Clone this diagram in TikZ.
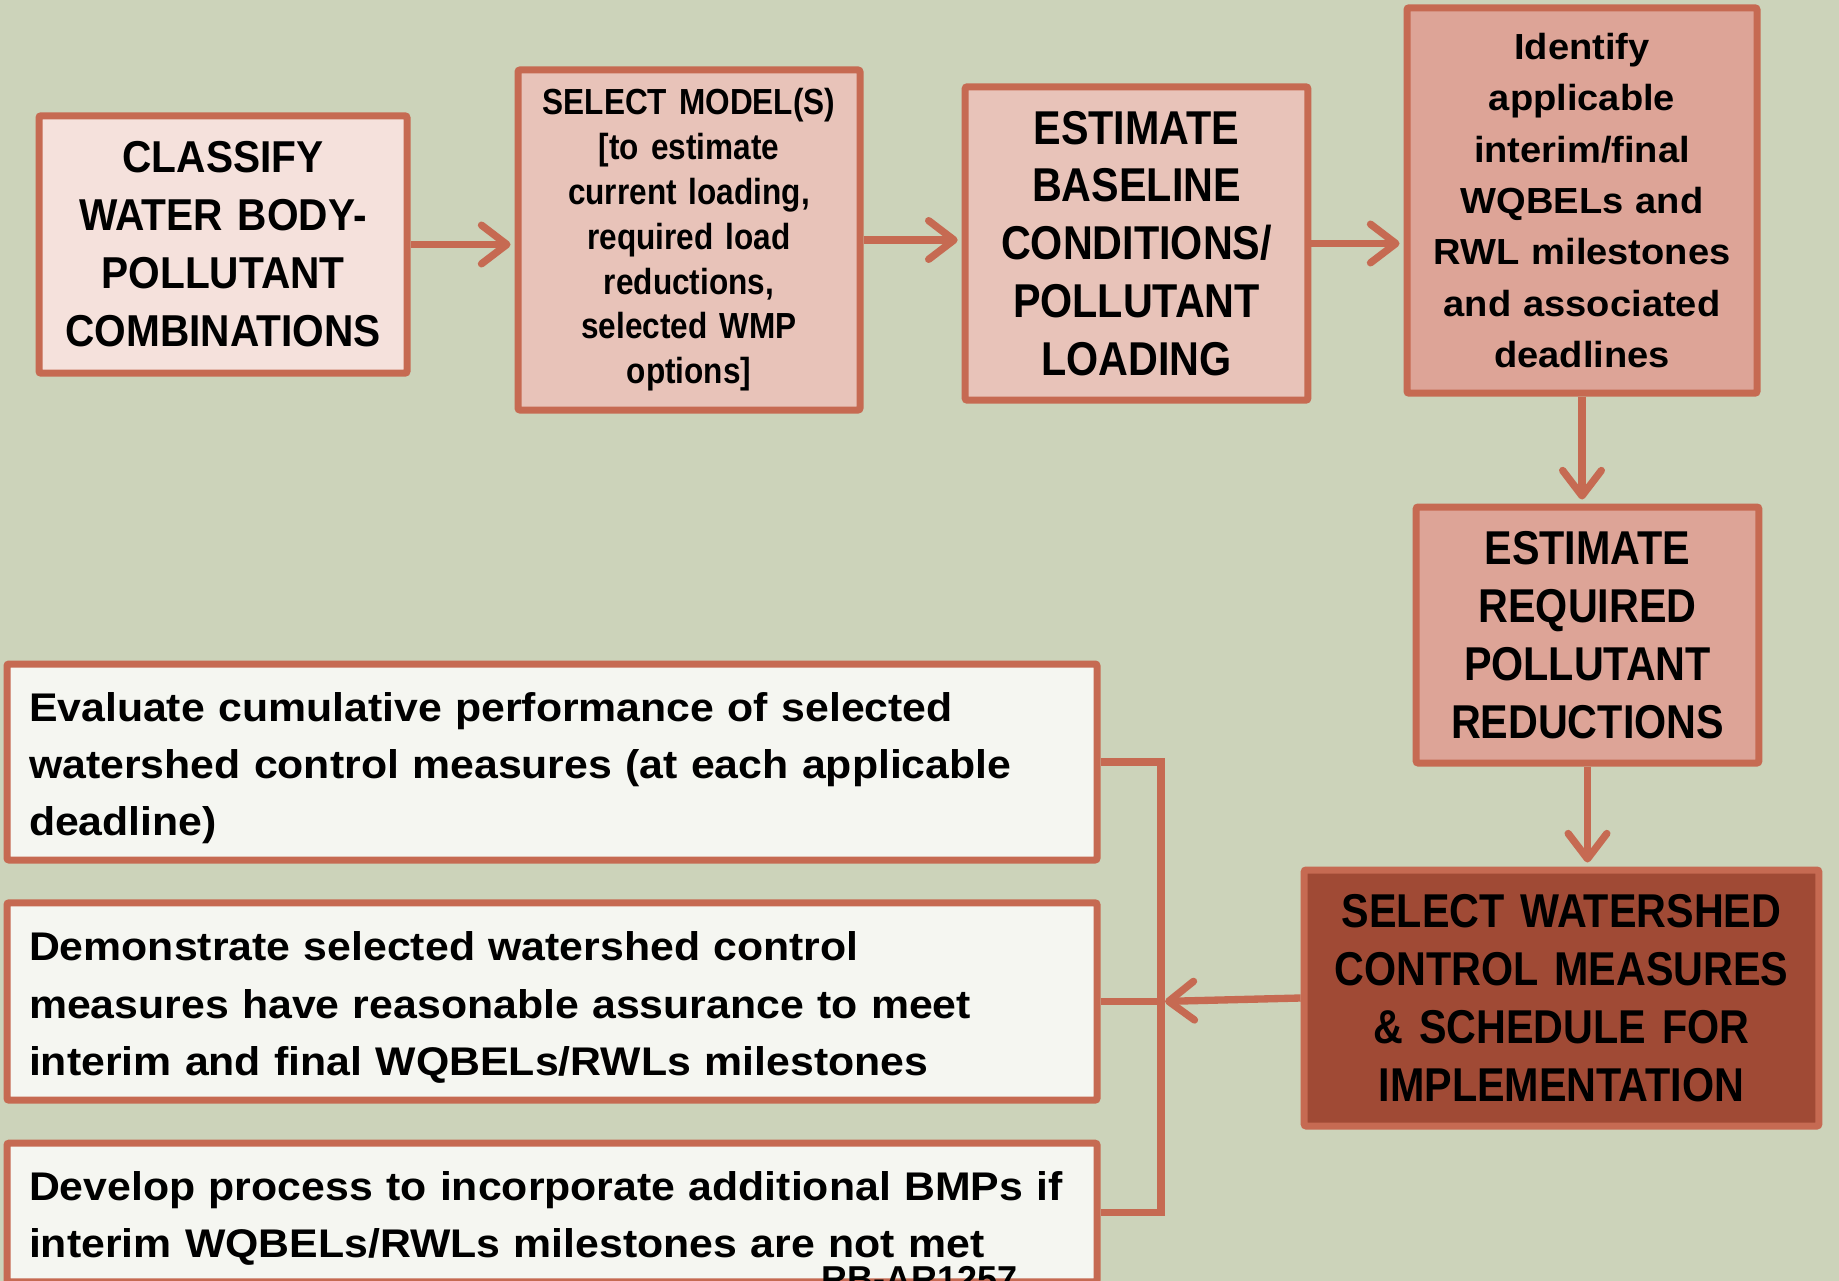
\documentclass[tikz,border=0pt]{standalone}
\usepackage{fontspec}
\setmainfont{Liberation Sans}
\newfontfamily\narrowfont{Liberation Sans}[FakeStretch=0.87,WordSpace=0.75]
\newfontfamily\midfont{Liberation Sans}[FakeStretch=0.91,WordSpace=0.8]
\newfontfamily\widefont{Liberation Sans}[FakeStretch=1.05]
\newfontfamily\notefont{Liberation Sans}[FakeStretch=1.07]
\usetikzlibrary{arrows.meta}

\definecolor{sage}{RGB}{204,211,186}
\definecolor{rust}{RGB}{198,106,82}
\definecolor{blush}{RGB}{245,225,220}
\definecolor{rose}{RGB}{232,195,185}
\definecolor{salmon}{RGB}{221,164,151}
\definecolor{brick}{RGB}{160,74,53}
\definecolor{paper}{RGB}{245,246,241}

\newcommand{\toppad}{\rule{0pt}{31pt}}

\tikzset{every picture/.style={line width=0.75pt}}
\tikzset{
  stepbox/.style={draw=rust, line width=5.25pt, rounded corners=1.5pt, inner sep=0pt, align=center},
  notebox/.style={stepbox, fill=paper, align=left, inner xsep=16.5pt, text width=784.5pt,
    minimum width=817.5pt, font=\notefont\bfseries\fontsize{30}{43.1}\selectfont},
  capsfont/.style={font=\narrowfont\bfseries\fontsize{35.6}{43.4}\selectfont},
  link/.style={draw=rust, line width=5.5pt},
  arr/.style={link, shorten >=3pt, -{Straight Barb[length=19pt,width=29pt,round]}},
}

\begin{document}
\begin{tikzpicture}[x=0.75pt,y=0.75pt,yscale=-1,xscale=1]
\useasboundingbox (0,0) rectangle (1839,1281);
\fill[sage] (0,0) rectangle (1839,1281);
\clip (0,0) rectangle (1839,1281);

% top row
\node[stepbox, fill=blush, minimum width=276pt, minimum height=193pt, text width=270pt,
  font=\midfont\bfseries\fontsize{33.5}{43.5}\selectfont] (classify) at (223,244.5)
  {CLASSIFY\\WATER BODY-\\POLLUTANT\\COMBINATIONS};
\node[stepbox, fill=rose, minimum width=256.5pt, minimum height=255pt, text width=250pt,
  font=\narrowfont\bfseries\fontsize{27.2}{33.6}\selectfont] (model) at (689,240)
  {SELECT MODEL(S)\\{}[to estimate\\current loading,\\required load\\reductions,\\selected WMP\\options]};
\node[stepbox, fill=rose, minimum width=257pt, minimum height=235pt, text width=250pt,
  capsfont] (baseline) at (1136.5,243.5)
  {ESTIMATE\\BASELINE\\CONDITIONS/\\POLLUTANT\\LOADING};
\node[stepbox, fill=salmon, minimum width=262.5pt, minimum height=289pt, text width=256pt,
  font=\widefont\bfseries\fontsize{27.2}{38.5}\selectfont] (identify) at (1582,200.5)
  {Identify\\applicable\\interim/final\\WQBELs and\\RWL milestones\\and associated\\deadlines};

% right column
\node[stepbox, fill=salmon, minimum width=257pt, minimum height=192pt, text width=250pt,
  capsfont] (reduce) at (1587.5,635)
  {ESTIMATE\\REQUIRED\\POLLUTANT\\REDUCTIONS};
\node[stepbox, fill=brick, minimum width=386pt, minimum height=192pt, text width=380pt,
  capsfont] (select) at (1561.5,998)
  {SELECT WATERSHED\\CONTROL MEASURES\\\& SCHEDULE FOR\\IMPLEMENTATION};

% left column
\node[notebox, minimum height=147pt] (evaluate) at (552,762)
  {\toppad Evaluate cumulative performance of selected\\watershed control measures (at each applicable\\deadline)};
\node[notebox, minimum height=148pt] (demo) at (552,1001.5)
  {\toppad Demonstrate selected watershed control\\measures have reasonable assurance to meet\\interim and final WQBELs/RWLs milestones};
\node[notebox, minimum height=104pt] (develop) at (552,1212.5)
  {\toppad Develop process to incorporate additional BMPs if\\interim WQBELs/RWLs milestones are not met};

% connectors
\draw[arr] (classify.east) -- (classify.east -| model.west);
\draw[arr] (model.east) -- (model.east -| baseline.west);
\draw[arr] (baseline.east) -- (baseline.east -| identify.west);
\draw[arr] (identify.south) -- (identify.south |- reduce.north);
\draw[arr] (reduce.south) -- (reduce.south |- select.north);

\coordinate (bus) at (1161,1001.5);
\draw[link] (evaluate.east) -| (bus) |- (develop.east);
\draw[link] (demo.east) -- (bus);
\draw[arr] (select.west) -- (bus);

% Text Node
\node[anchor=base west, inner sep=0pt, font=\bfseries\fontsize{27}{30}\selectfont] (stamp) at (821,1291) {RB-AR1257};

\end{tikzpicture}
\end{document}
